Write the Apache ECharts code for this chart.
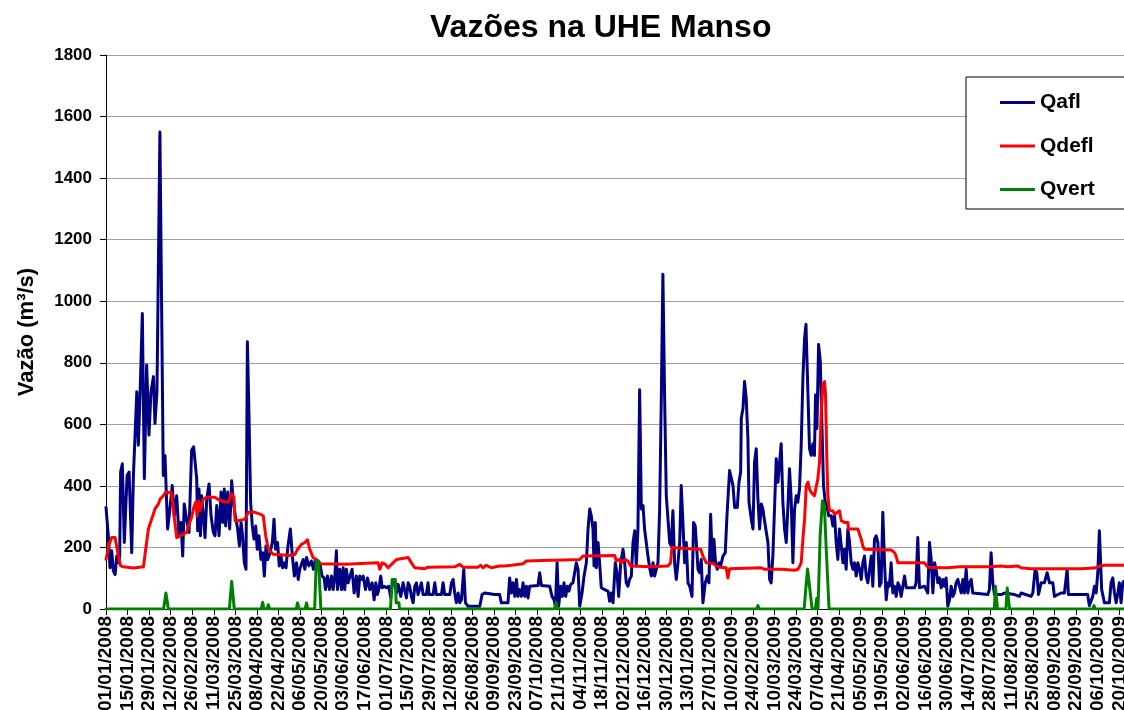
<!DOCTYPE html>
<html>
<head>
<meta charset="utf-8">
<title>Vazões na UHE Manso</title>
<script src="https://cdn.jsdelivr.net/npm/echarts@6.0.0/dist/echarts.min.js"></script>
<style>
  html, body { margin: 0; padding: 0; background: #fff; }
  #chart { width: 1124px; height: 710px; }
</style>
</head>
<body>
<div id="chart"></div>
<script>
// x = dias desde 01/01/2008, y = vazao (m3/s)
const tickLabels = ['01/01/2008', '15/01/2008', '29/01/2008', '12/02/2008', '26/02/2008', '11/03/2008', '25/03/2008',
  '08/04/2008', '22/04/2008', '06/05/2008', '20/05/2008', '03/06/2008', '17/06/2008', '01/07/2008', '15/07/2008',
  '29/07/2008', '12/08/2008', '26/08/2008', '09/09/2008', '23/09/2008', '07/10/2008', '21/10/2008', '04/11/2008',
  '18/11/2008', '02/12/2008', '16/12/2008', '30/12/2008', '13/01/2009', '27/01/2009', '10/02/2009', '24/02/2009',
  '10/03/2009', '24/03/2009', '07/04/2009', '21/04/2009', '05/05/2009', '19/05/2009', '02/06/2009', '16/06/2009',
  '30/06/2009', '14/07/2009', '28/07/2009', '11/08/2009', '25/08/2009', '08/09/2009', '22/09/2009', '06/10/2009',
  '20/10/2009']

const qafl = [
  [0, 330], [1.5, 238], [2.6, 134], [3.7, 189], [4.8, 123], [5.9, 112], [7, 172], [8, 150], [8.9, 172], [9.5, 445],
  [10.6, 472], [11.9, 216], [13.7, 434], [15, 445], [16.7, 183], [17.8, 434], [18.9, 440], [20, 706], [21, 532],
  [22.1, 695], [23.6, 960], [24.9, 423], [26.4, 793], [27.9, 565], [29.2, 706], [30.8, 755], [31.8, 603], [33.1, 706],
  [35, 1550], [37.2, 434], [38.3, 499], [40, 260], [41.5, 325], [43, 401], [44.3, 303], [45.9, 368], [47.4, 238],
  [48.7, 281], [49.8, 172], [50.8, 341], [52.3, 292], [53.9, 249], [55.6, 516], [56.9, 527],
  [58.9, 423], [59.5, 254], [60.4, 390], [61.3, 238], [62.1, 368], [63.2, 303], [64.3, 232], [65.4, 357], [66.9, 406],
  [68.2, 303], [69.7, 249], [70.8, 238], [71.9, 336], [73.4, 238], [74.7, 380], [75.8, 281], [76.8, 390], [77.7, 270],
  [79, 380], [80.3, 260], [81.6, 417], [82.7, 347], [83.8, 308], [85.5, 260], [86.6, 205], [87.7, 281], [88.7, 238],
  [89.8, 150], [90.9, 129], [91.8, 868], [92.8, 641], [93.9, 347], [95, 270], [96.1, 227], [97.2, 270], [98.2, 194],
  [99.3, 238], [100.6, 161], [101.7, 183], [102.8, 107], [103.9, 205], [105, 161], [106.5, 183], [108, 216],
  [109.1, 292], [110.1, 194], [111.4, 216], [112.5, 140], [113.6, 172], [114.7, 134], [115.8, 150], [116.9, 134],
  [117.9, 194], [119.7, 260], [121, 172],
  [122.3, 107], [123.7, 150], [124.8, 96], [125.8, 129], [128, 161], [129.1, 129], [130.2, 167], [131.7, 140],
  [133.4, 156], [134.7, 129], [136, 161], [137.3, 134], [138.8, 150], [140.3, 107], [141.6, 101], [142.5, 63],
  [143.8, 107], [145.1, 63], [146.4, 107], [147.5, 63], [148.6, 107], [149.6, 189], [150.3, 63], [151.8, 129],
  [152.9, 63], [154, 134], [155, 63], [156.1, 129], [157.2, 85], [158.3, 85], [159.8, 129], [161.1, 52], [162.6, 107],
  [163.7, 41], [164.8, 107], [165.9, 96], [167, 107], [168.5, 63], [169.8, 101], [171.3, 63], [172.8, 85], [174.1, 30],
  [175.2, 85], [176.2, 47], [177.1, 63], [178.4, 107], [179.3, 69], [180.6, 74], [182.1, 69], [183.6, 74], [184.9, 36],
  [186, 85], [187.5, 85],
  [188.6, 52], [189.7, 80], [191.4, 41], [192.9, 85], [195.1, 36], [196.2, 85], [197.2, 74], [198.3, 41], [199.4, 20],
  [200.5, 74], [201.6, 85], [202.6, 47], [203.7, 47], [204.8, 85], [205.9, 47], [208, 47], [209.1, 85], [209.8, 47],
  [212.4, 47], [213.5, 85], [214.5, 47], [217.8, 47], [218.9, 85], [219.9, 47], [223.2, 47], [224.3, 85], [225.4, 96],
  [226.4, 52], [227.5, 20], [228.6, 52], [229.7, 20], [230.8, 30], [232.3, 129], [233.4, 20], [235.1, 9], [242.7, 9],
  [244.2, 47], [245.9, 52], [252.4, 47],
  [255.6, 47], [256.7, 20], [261, 20], [262.1, 101], [263.2, 52], [264.3, 85], [265.4, 41], [266.5, 96], [267.5, 41],
  [268.6, 63], [269.7, 41], [270.8, 85], [271.9, 41], [273, 74], [274, 36], [275.1, 74], [276.2, 80], [280.5, 76],
  [281.6, 118], [282.7, 76], [288.1, 74], [289.6, 41], [290.9, 30], [291.8, 9], [292.9, 150], [293.9, 9], [295.2, 74],
  [296.3, 41], [297.4, 85], [298.5, 41], [299.6, 74], [300.6, 58], [301.7, 80], [303.2, 85], [305.4, 150], [306.5, 129],
  [307.6, 9], [309.1, 52], [310.4, 107], [311.9, 150], [313, 260], [314.1, 325], [315.1, 303], [316.2, 260],
  [316.9, 140], [317.7, 281],
  [318.4, 134], [319.5, 216], [320.5, 150], [321.6, 69], [323.8, 63], [326, 58], [327, 25], [328.1, 52], [329.2, 20],
  [330.7, 150], [331.8, 118], [332.9, 41], [334.2, 150], [335.7, 194], [336.8, 150], [337.8, 85], [338.9, 74],
  [340, 96], [341.1, 107], [342.2, 216], [343.3, 254], [344.3, 140], [345.4, 260], [346.5, 712], [347.6, 325],
  [348.7, 336], [349.7, 260], [350.8, 216], [351.9, 172], [353, 134], [354.1, 107], [355.2, 150], [356.2, 107],
  [357.3, 129], [358.4, 150], [359.5, 325], [360.6, 695], [361.6, 1088], [362.7, 695], [363.8, 368], [364.9, 292],
  [366, 216], [367, 205], [368.1, 319], [369.2, 150], [370.3, 96], [371.4, 150], [372.5, 216], [373.5, 401],
  [374.6, 281], [375.7, 150], [376.8, 216], [377.9, 85], [379, 74], [380.5, 41], [381.5, 281], [382.6, 270],
  [383.5, 200], [384.4, 129], [385.4, 118], [386.5, 161], [387.6, 20], [389.1, 85], [390.4, 107], [391.5, 85],
  [392.6, 308], [393.7, 150], [394.7, 227], [395.8, 150], [396.9, 129], [398, 150], [399.1, 140], [400.6, 172],
  [402.1, 183], [403.2, 303], [404.9, 450], [406, 445], [407.1, 401], [408.2, 330], [409.9, 330], [411, 412],
  [412.1, 445], [412.5, 619], [413.6, 652], [414.6, 739], [415.7, 685], [416.8, 554], [417.5, 347], [419, 292],
  [420.1, 260], [421.1, 477], [422.2, 521], [423.3, 357], [424.4, 260], [425.5, 341], [426.5, 325], [427.6, 287],
  [428.7, 281], [429.8, 216], [430.9, 96], [431.9, 85], [433, 172], [434.1, 172], [435.2, 488], [436.3, 412],
  [437.4, 412], [438.4, 537], [439.5, 347], [440.6, 260], [441.7, 216], [442.8, 336], [443.8, 456], [444.9, 357],
  [446, 150],
  [447.1, 325], [448.2, 368], [449.2, 347], [450.3, 390], [451.4, 532], [452.5, 750], [453.6, 880], [454.5, 925],
  [455.8, 695], [456.8, 521], [457.9, 499], [459, 537], [460, 499], [460.7, 695], [461.6, 586], [462.7, 859],
  [463.8, 804], [464.8, 608], [465.9, 401], [467, 347], [468.1, 336], [469.2, 303], [470.9, 303], [472, 270],
  [473.1, 303], [474.1, 216], [475.2, 161], [476.3, 260], [477.4, 205], [478.5, 150], [479.5, 194], [480.6, 129],
  [481.7, 260], [482.8, 216], [483.9, 150], [485, 129], [486, 150], [487.1, 107], [488.2, 150], [489.3, 129],
  [490.4, 96], [491.4, 150], [492.5, 172], [493.6, 107], [494.7, 85], [495.8, 129], [496.9, 172], [497.9, 74],
  [499, 227], [500.1, 238], [501.2, 216], [502.3, 74], [503.3, 85], [504.4, 314], [505.5, 150], [506.6, 30],
  [507.7, 85], [508.7, 74], [509.8, 150], [510.9, 52], [512, 74], [513.1, 41],
  [514.2, 85], [515.2, 74], [516.3, 41], [517.4, 36], [518.5, 107], [519.6, 69], [525, 69], [526, 85], [527.1, 232],
  [528.2, 69], [531.5, 74], [532.6, 69], [533.6, 52], [534.7, 216], [535.8, 161], [536.9, 52], [538, 150], [539, 129],
  [540.1, 85], [541.2, 101], [542.3, 69], [543.4, 96], [544.4, 74], [545.5, 101], [546.6, 9], [547.7, 30], [548.8, 74],
  [549.9, 41], [550.9, 52], [552, 85], [553.1, 96], [554.2, 74], [555.3, 52], [556.4, 96], [557.4, 52], [558.5, 129],
  [559.6, 52], [560.7, 85], [561.8, 96], [562.8, 52], [563.9, 47], [572.6, 47], [573.6, 63], [574.7, 183],
  [575.8, 85], [576.9, 47],
  [581.2, 47], [583.4, 52], [589.9, 47], [593.1, 41], [594.2, 52], [600.7, 41], [601.8, 52], [603.3, 129],
  [604.4, 118], [605.5, 47], [607.2, 85], [609.3, 85], [611.1, 118], [612.6, 85], [614.8, 85], [615.8, 41], [618, 47],
  [620.2, 52], [622.3, 52], [624.1, 129], [624.9, 47], [633.1, 47], [637.4, 47], [638.5, 11], [639.6, 9], [640.7, 41],
  [641.8, 74], [642.9, 52], [644, 118], [645, 254], [645.7, 254], [646.5, 63], [648.3, 20], [651.5, 20], [652.6, 85],
  [653.7, 101], [654.8, 52], [655.9, 20], [657, 52], [658, 85], [659.1, 20], [660.2, 85], [661, 90]
]

const qdefl = [
  [0, 161], [2, 210], [3.7, 232], [5.9, 232], [8, 172], [9.5, 140], [11.3, 137], [17.8, 133], [24.3, 137],
  [27.5, 260], [31.8, 325], [34, 341], [35.1, 357], [37.2, 368], [38.8, 380], [42.7, 377], [43.7, 325], [45.9, 232],
  [52.4, 249], [53.5, 270], [55.6, 298], [57, 330], [58.2, 347], [59.2, 303], [60.2, 350], [61.1, 320], [63.2, 357],
  [65.4, 363], [70.8, 363], [74, 352], [79.4, 347], [81.6, 374], [83.1, 363], [83.8, 287], [85.9, 287], [90.2, 292],
  [92.4, 314], [96.7, 314], [100, 308], [101.1, 314], [102.1, 303], [103.7, 238], [105.4, 194], [108.6, 178],
  [120.5, 174], [122.7, 178], [124.4, 194], [126.9, 210], [129.1, 216], [130.8, 225], [132.3, 194], [134.5, 167],
  [136.7, 161], [138.8, 147], [155, 145], [176.7, 150], [177.8, 129], [179.3, 150], [181.4, 145], [183.2, 134],
  [186.4, 150], [188.6, 161], [196.2, 167], [198.3, 150], [200.5, 134], [207, 131], [209.1, 136], [226.4, 137],
  [229.7, 145], [231.8, 136], [241.6, 136], [243.3, 142], [244.8, 134], [247, 142], [250.2, 134], [255.6, 140],
  [258.9, 140], [263.2, 142], [264.3, 145], [270.8, 147], [273, 156], [289.2, 158], [290.3, 153], [291.3, 158],
  [307.6, 161], [309.7, 172], [310.8, 174], [330.3, 174], [331.4, 156], [333.5, 161], [334.6, 150], [336.8, 161],
  [338.9, 156], [340.7, 140], [354.1, 137], [355.2, 134], [364.9, 140], [366.6, 150], [367.5, 200], [383.3, 194],
  [384.4, 200], [386.1, 194], [387.6, 172], [389.8, 150], [394.1, 148], [396.3, 140], [398.4, 136], [402.7, 134],
  [403.8, 101], [404.9, 131], [425.5, 134], [427.6, 129], [438.4, 129], [447.1, 126], [449.3, 129], [451.4, 150],
  [452.5, 227], [453.6, 292], [454.7, 401], [455.8, 412], [456.8, 390], [457.9, 379], [460, 368], [461.2, 363],
  [462.2, 423], [463.3, 477], [464.4, 641], [465.5, 728], [466.6, 739], [467.2, 695], [468.1, 477], [468.7, 368],
  [469.8, 319], [470.9, 314], [472, 319], [473.1, 308], [474.1, 314], [476.3, 319], [477.4, 287], [479.5, 281],
  [481.7, 281], [482.1, 260], [488.2, 260], [489.3, 243], [490.4, 227], [491.4, 205], [492.5, 194], [509.8, 192],
  [512, 183], [513, 172], [514.2, 150], [531.5, 150], [533.6, 136], [543.4, 134], [544.5, 131], [546.6, 134],
  [554.2, 137], [555.3, 134], [574.7, 137], [581.2, 140], [585.5, 137], [592, 140], [594.2, 134], [600.7, 131],
  [633.1, 131], [641.8, 133], [645.7, 140], [648.3, 142], [661, 142]
]

const qvert = [
  [0, 0], [37.4, 0], [38.9, 52], [40.5, 0], [80.1, 0], [81.6, 90], [83.3, 0], [100.8, 0], [101.7, 22], [102.6, 0],
  [104.6, 0], [105.4, 14], [106.2, 0], [123.5, 0], [124.4, 20], [125.3, 0], [129.3, 0], [130.2, 20], [131, 0],
  [135.5, 0], [136.5, 156], [138, 156], [139.5, 0], [184.7, 0], [185.8, 96], [187.9, 96], [188.4, 20], [190.2, 20],
  [190.6, 0], [291.2, 0], [292.2, 22], [293.2, 0], [422.5, 0], [423.3, 11], [424.1, 0], [453.3, 0], [455.5, 130],
  [456.3, 125], [458.5, 0], [460.6, 0], [461.5, 35], [462.3, 0], [463.7, 238], [465.2, 352], [466.4, 340],
  [467.6, 200], [469.5, 0], [576.8, 0], [577.5, 74], [578.2, 74], [578.8, 0], [584.3, 0], [585.2, 68], [585.9, 68],
  [586.7, 0], [640.8, 0], [641.5, 11], [642.3, 0], [661, 0]
]

const fontFamily = '"Liberation Sans", Arial, sans-serif'

const chart = echarts.init(document.getElementById('chart'), null, { renderer: 'canvas' })

function serie(name, data, color) {
  return {
    name: name,
    type: 'line',
    data: data,
    symbol: 'none',
    showSymbol: false,
    animation: false,
    lineStyle: { color: color, width: 3, join: 'round', cap: 'round' },
    itemStyle: { color: color }
  }
}

chart.setOption({
  animation: false,
  backgroundColor: '#fff',
  textStyle: { fontFamily: fontFamily },
  title: {
    text: 'Vazões na UHE Manso',
    left: 430,
    top: 12,
    padding: 0,
    textStyle: { fontFamily: fontFamily, fontSize: 32, fontWeight: 'bold', color: '#000' }
  },
  legend: {
    orient: 'vertical',
    left: 966,
    top: 77,
    padding: [15, 70, 9, 34],
    itemGap: 22.5,
    itemWidth: 35,
    itemHeight: 3,
    icon: 'rect',
    backgroundColor: '#fff',
    borderColor: '#000',
    borderWidth: 1,
    borderRadius: 0,
    textStyle: { fontFamily: fontFamily, fontSize: 21, fontWeight: 'bold', color: '#000' },
    data: ['Qafl', 'Qdefl', 'Qvert']
  },
  grid: {
    left: 106,
    right: 0,
    top: 55,
    bottom: 101,
    containLabel: false,
    outerBoundsMode: 'none'
  },
  xAxis: {
    type: 'value',
    min: 0,
    max: 661,
    interval: 14,
    axisLine: { lineStyle: { color: '#000', width: 1 } },
    axisTick: { show: true, inside: false, length: 6, lineStyle: { color: '#000' } },
    splitLine: { show: false },
    axisLabel: {
      rotate: 90,
      margin: 7,
      fontFamily: fontFamily,
      fontSize: 19,
      fontWeight: 'bold',
      color: '#000',
      formatter: function (v) {
        return v % 14 === 0 ? (tickLabels[v / 14] || '') : ''
      }
    }
  },
  yAxis: {
    type: 'value',
    min: 0,
    max: 1800,
    interval: 200,
    name: 'Vazão (m³/s)',
    nameLocation: 'middle',
    nameGap: 68,
    nameTextStyle: { fontFamily: fontFamily, fontSize: 22, fontWeight: 'bold', color: '#000' },
    axisLine: { show: true, lineStyle: { color: '#000', width: 1 } },
    axisTick: { show: true, inside: false, length: 6, lineStyle: { color: '#000' } },
    splitLine: { show: true, lineStyle: { color: '#a0a0a0', width: 1 } },
    axisLabel: {
      margin: 14,
      fontFamily: fontFamily,
      fontSize: 17,
      fontWeight: 'bold',
      color: '#000',
      formatter: function (v) { return String(v) }
    }
  },
  series: [
    serie('Qafl', qafl, '#000080'),
    serie('Qdefl', qdefl, '#ff0000'),
    serie('Qvert', qvert, '#008000')
  ]
})
</script>
</body>
</html>
